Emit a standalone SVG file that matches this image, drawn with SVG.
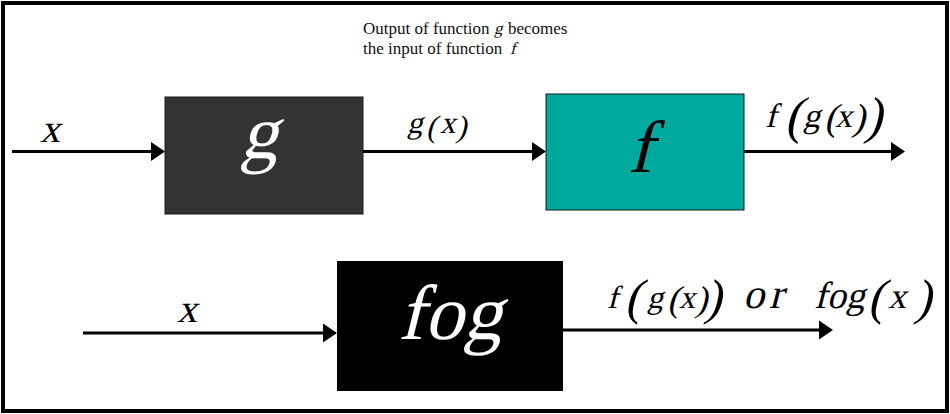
<svg xmlns="http://www.w3.org/2000/svg" width="950" height="414" viewBox="0 0 950 414">
<style>
.m{font-family:"Liberation Serif","Times New Roman",serif;font-style:normal;}
.t{font-family:"Liberation Serif","Times New Roman",serif;font-size:17px;fill:#111;}
.ln{stroke:#000;stroke-width:3;fill:none;marker-end:url(#ah);}
</style>
<defs>
<marker id="ah" markerUnits="userSpaceOnUse" markerWidth="14" markerHeight="20" refX="8" refY="9.5" orient="auto" viewBox="0 0 14 19">
<path d="M0,0 L14,9.5 L0,19 z" fill="#000"/>
</marker>
</defs>
<rect x="3" y="3" width="944" height="408" fill="#fff" stroke="#000" stroke-width="4"/>
<g id="note">
<text class="t" x="363" y="34">Output of function</text>
<text class="t m" transform="translate(494,34) skewX(-14)" x="0" y="0">g</text>
<text class="t" x="508" y="34">becomes</text>
<text class="t" x="363" y="54">the input of function</text>
<text class="t m" transform="translate(510,54) skewX(-14)" x="0" y="0">f</text>
</g>
<g id="connectors">
<line class="ln" x1="12" y1="151.5" x2="159" y2="151.5"/>
<line class="ln" x1="363" y1="151.5" x2="540" y2="151.5"/>
<line class="ln" x1="744" y1="151.5" x2="899" y2="151.5"/>
<line class="ln" x1="83" y1="333" x2="331" y2="333"/>
<line class="ln" x1="563" y1="330" x2="827" y2="330"/>
</g>
<g id="labels" class="m" fill="#000">
<text transform="translate(40,142) skewX(-14)" font-size="40" x="0" y="0">x</text>
<text transform="translate(407,133) skewX(-14)" font-size="31"><tspan x="0" y="0">g</tspan><tspan x="20" y="3.5" font-size="31">(</tspan><tspan x="33" y="0">x</tspan><tspan x="50" y="3.5" font-size="31">)</tspan></text>
<text transform="translate(765,127) skewX(-14)" font-size="34"><tspan x="0" y="0">f</tspan><tspan x="21" y="6" font-size="52">(</tspan><tspan x="38" y="0">g</tspan><tspan x="60" y="3" font-size="38">(</tspan><tspan x="70" y="0">x</tspan><tspan x="88" y="3" font-size="38">)</tspan><tspan x="101" y="6" font-size="52">)</tspan></text>
<text transform="translate(177,322) skewX(-14)" font-size="40" x="0" y="0">x</text>
<text transform="translate(607,308) skewX(-14)" font-size="32"><tspan x="0" y="0">f</tspan><tspan x="19" y="6" font-size="50">(</tspan><tspan x="40" y="0">g</tspan><tspan x="61" y="3" font-size="36">(</tspan><tspan x="72" y="0">x</tspan><tspan x="89" y="3" font-size="36">)</tspan><tspan x="99" y="6" font-size="50">)</tspan></text>
<text transform="translate(743,308) skewX(-14)" font-size="42" letter-spacing="5" x="0" y="0">or</text>
<text transform="translate(814,308) skewX(-14)" font-size="38"><tspan x="0" y="0">fog</tspan><tspan x="55" y="6" font-size="50">(</tspan><tspan x="74" y="0" font-size="36">x</tspan><tspan x="102" y="6" font-size="50">)</tspan></text>
</g>
<g id="node-g">
<rect x="165" y="97" width="198" height="117" fill="#333333" stroke="#1a1a1a" stroke-width="1"/>
<text class="m" transform="translate(259,158) skewX(-14)" x="0" y="0" font-size="76" fill="#fff" text-anchor="middle">g</text>
</g>
<g id="node-f">
<rect x="546" y="94" width="198" height="116" fill="#00A99D" stroke="#1a1a1a" stroke-width="1"/>
<text class="m" transform="translate(640,172) skewX(-14)" x="0" y="0" font-size="74" fill="#000" text-anchor="middle">f</text>
</g>
<g id="node-fog">
<rect x="337" y="261" width="226" height="130" fill="#000"/>
<text class="m" transform="translate(450,339) skewX(-14)" x="0" y="0" font-size="78" fill="#fff" text-anchor="middle">fog</text>
</g>
</svg>
